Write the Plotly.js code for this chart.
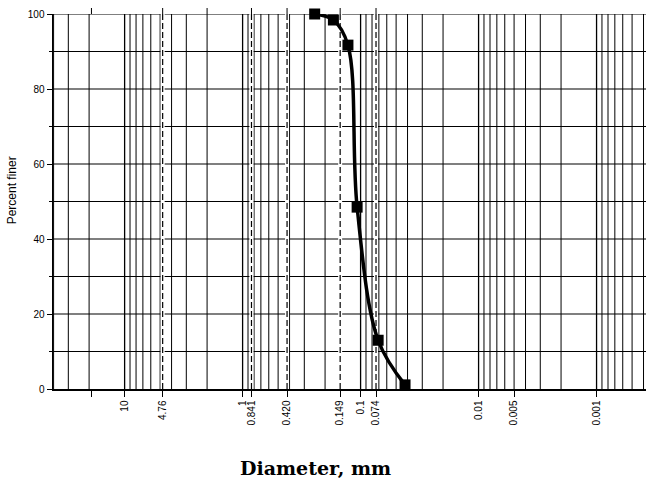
<!DOCTYPE html>
<html>
<head>
<meta charset="utf-8">
<script src="https://cdn.plot.ly/plotly-3.0.1.min.js"></script>
<style>
  html, body { margin: 0; padding: 0; background: #fff; }
  #chart { width: 646px; height: 489px; }
</style>
</head>
<body>
<div id="chart"></div>
<script>
// Measured grain-size points (diameter in mm, percent finer)
const diameters = [0.245, 0.17, 0.128, 0.107, 0.071, 0.042];
const percentFiner = [100, 98.4, 91.7, 48.5, 13, 1.1];

// Labelled x ticks
const xTickVals = [19.1, 10, 4.76, 1, 0.841, 0.420, 0.149, 0.1, 0.074, 0.01, 0.005, 0.001];
const xTickText = ['', '10', '4.76', '1', '0.841', '0.420', '0.149', '0.1', '0.074', '0.01', '0.005', '0.001'];
// Standard sieve openings drawn as dashed lines
const sieveSizes = [4.76, 0.841, 0.420, 0.149, 0.074];
// Extra sieve marks at the top edge
const topMarks = [19.1, 4.76, 2.0, 0.841, 0.420, 0.149, 0.074];
// Log grid multipliers
const gridMultipliers = [1, 2, 3, 4, 5, 6, 7, 8, 9];
const gridDecades = [-4, -3, -2, -1, 0, 1];
const yTickVals = [0, 20, 40, 60, 80, 100];
const yGridVals = [10, 20, 30, 40, 50, 60, 70, 80, 90, 100];

const xRange = [1.607, -3.419];
const lo = Math.pow(10, Math.min(...xRange)), hi = Math.pow(10, Math.max(...xRange));

const shapes = [];
gridDecades.forEach(d => gridMultipliers.forEach(m => {
  const v = m * Math.pow(10, d);
  if (v > lo && v < hi) {
    shapes.push({type: 'line', xref: 'x', yref: 'paper', x0: v, x1: v, y0: 0, y1: 1,
      layer: 'below', line: {color: '#000000', width: m === 1 ? 1.3 : 1}});
  }
}));
yGridVals.forEach(v => {
  shapes.push({type: 'line', xref: 'paper', yref: 'y', x0: 0, x1: 1, y0: v, y1: v,
    layer: 'below', line: {color: '#000000', width: 1.1}});
});
sieveSizes.forEach(v => {
  shapes.push({type: 'line', xref: 'x', yref: 'paper', x0: v, x1: v, y0: 0, y1: 1,
    layer: 'below', line: {color: '#ffffff', width: 4}});
  shapes.push({type: 'line', xref: 'x', yref: 'paper', x0: v, x1: v, y0: 0, y1: 1,
    layer: 'below', line: {color: '#000000', width: 1.2, dash: '6px,3px'}});
});
topMarks.forEach(v => {
  shapes.push({type: 'line', xref: 'x', yref: 'paper', x0: v, x1: v, y0: 1, y1: 1.016,
    line: {color: '#000000', width: 1}});
});

const trace = {
  x: diameters,
  y: percentFiner,
  type: 'scatter',
  mode: 'lines+markers',
  line: {color: '#000', width: 3.5, shape: 'spline', smoothing: 1},
  marker: {symbol: 'square', size: 11, color: '#000'},
  cliponaxis: false,
  hoverinfo: 'x+y'
};

const tickFont = {family: 'Liberation Sans, Arial, sans-serif', size: 10, color: '#000'};

const layout = {
  width: 646, height: 489,
  margin: {l: 53, r: 0, t: 14, b: 100},
  paper_bgcolor: '#fff', plot_bgcolor: '#fff',
  showlegend: false,
  xaxis: {
    type: 'log', range: xRange, autorange: false,
    tickmode: 'array', tickvals: xTickVals, ticktext: xTickText,
    tickangle: -90, ticks: 'outside', ticklen: 6, tickcolor: '#000', tickwidth: 1,
    tickfont: tickFont, showgrid: false, zeroline: false,
    showline: true, linecolor: '#000', linewidth: 1.5, mirror: false
  },
  yaxis: {
    range: [0, 100], autorange: false,
    tickmode: 'array', tickvals: yTickVals,
    ticks: 'outside', ticklen: 5, tickcolor: '#000',
    tickfont: tickFont,
    showgrid: false,
    minor: {dtick: 10, ticks: 'outside', ticklen: 3, tickcolor: '#000', showgrid: false},
    zeroline: false, showline: true, linecolor: '#000', linewidth: 1.5, mirror: false
  },
  shapes: shapes,
  annotations: [
    {text: 'Percent finer', xref: 'paper', yref: 'paper', x: -0.069, y: 0.53,
     xanchor: 'center', yanchor: 'middle', textangle: -90, showarrow: false,
     font: {family: 'Liberation Sans, Arial, sans-serif', size: 12, color: '#000'}},
    {text: 'Diameter, mm', xref: 'paper', yref: 'paper', x: 0.442, y: -0.211,
     xanchor: 'center', yanchor: 'middle', showarrow: false,
     font: {family: 'DejaVu Serif, serif', size: 19, color: '#000', weight: 'bold'}}
  ]
};

Plotly.newPlot('chart', [trace], layout, {displayModeBar: false, staticPlot: true});
</script>
</body>
</html>
